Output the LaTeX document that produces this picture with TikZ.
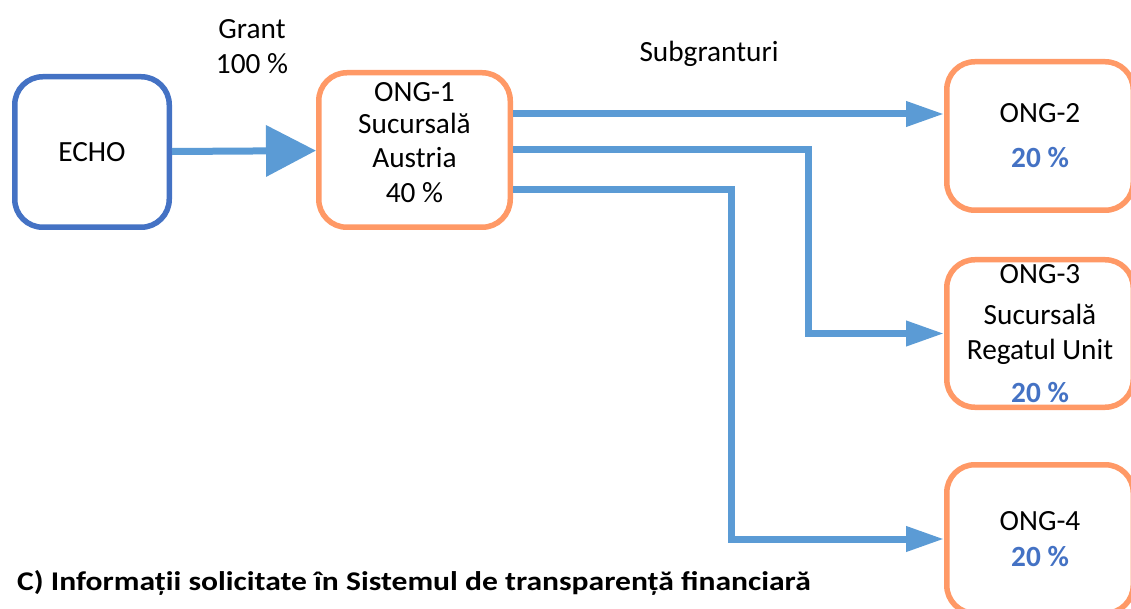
\documentclass[tikz,border=0pt]{standalone}
\usepackage{fontspec}
\setmainfont{Carlito}
\usetikzlibrary{arrows.meta}

\definecolor{echoblue}{HTML}{4472C4}
\definecolor{ongorange}{HTML}{FF9966}
\definecolor{flowblue}{HTML}{5B9BD5}

\newcommand{\pct}[1]{{\bfseries\color{echoblue}#1}}
\newcommand{\liftby}[1]{\rule[-#1]{0pt}{#1}}

\tikzset{
  ongbox/.style={shape=rectangle,draw=ongorange,fill=white,align=center,line width=5.5pt,rounded corners=28pt,inner sep=0pt},
  echobox/.style={ongbox,draw=echoblue},
  flow/.style={draw=flowblue,line width=7pt},
  bigtip/.style={-{Triangle[length=50pt,width=50pt]}},
  subtip/.style={-{Triangle[length=38pt,width=24pt]}}
}

\begin{document}
\begin{tikzpicture}[x=1pt,y=-1pt,font=\fontsize{29.3}{34}\selectfont]
\useasboundingbox (0,0) rectangle (1131,609);

\node[echobox,minimum width=154.5pt,minimum height=150.5pt] (echo) at (92,152) {ECHO};
\node[ongbox,minimum width=191.5pt,minimum height=154.5pt] (ong1) at (414.5,150) {ONG-1\\[-2pt]Sucursală\\Austria\\[1pt]40 \%\liftby{15pt}};
\node[ongbox,minimum width=186.5pt,minimum height=148.5pt] (ong2) at (1040,136) {ONG-2\\[11pt]\pct{20 \%}};
\node[ongbox,minimum width=186.5pt,minimum height=147.5pt] (ong3) at (1040,333.5) {ONG-3\\[7pt]Sucursală\\[1pt]Regatul Unit\\[9pt]\pct{20 \%}};
\node[ongbox,minimum width=186.5pt,minimum height=148.5pt] (ong4) at (1040,539) {ONG-4\\[2pt]\pct{20 \%}};

\node[align=center,inner sep=0pt] (grant) at (252,47) {Grant\\[1pt]100 \%};
\node[anchor=base,inner sep=0pt] (subgr) at (709,61.5) {Subgranturi};
\node[anchor=base west,inner sep=0pt,xscale=1.17,transform shape,font=\fontsize{27}{30}\selectfont\bfseries] (caption) at (17,590) {C) Informații solicitate în Sistemul de transparență financiară};

% grant
\draw[flow,bigtip] (echo) -- (ong1);

% subgrants
\coordinate (s1) at ([yshift=36pt]ong1.east);
\coordinate (s3) at ([yshift=-40pt]ong1.east);
\draw[flow,subtip] (s1) -- (s1 -| ong2.west);
\draw[flow,subtip] (ong1.east) -- ++(295,0) |- (ong3.west);
\draw[flow,subtip] (s3) -- ++(218,0) |- (ong4.west);
\end{tikzpicture}
\end{document}
